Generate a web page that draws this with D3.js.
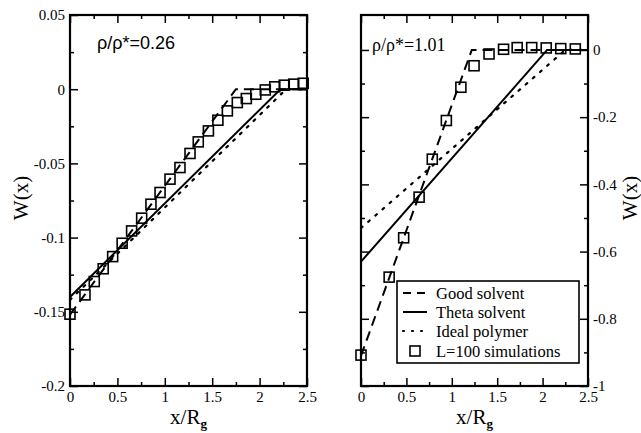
<!DOCTYPE html>
<html>
<head>
<meta charset="utf-8">
<script src="https://cdn.jsdelivr.net/npm/d3@7"></script>
<style>
  body { margin: 0; background: #fff; }
</style>
</head>
<body>
<div id="visualize"></div>
<script>
// x tick values and labels (both panels)
var xTicks = [0, 0.5, 1, 1.5, 2, 2.5];
var xTickLabels = ["0", "0.5", "1", "1.5", "2", "2.5"];
var xMinor = [0.25, 0.75, 1.25, 1.75, 2.25];

// left panel y ticks
var leftYTicks = [0.05, 0, -0.05, -0.1, -0.15, -0.2];
var leftYLabels = ["0.05", "0", "-0.05", "-0.1", "-0.15", "-0.2"];
var leftYMinor = [0.025, -0.025, -0.075, -0.125, -0.175];

// right panel y ticks
var rightYTicks = [0, -0.2, -0.4, -0.6, -0.8, -1];
var rightYLabels = ["0", "-0.2", "-0.4", "-0.6", "-0.8", "-1"];
var rightYMinor = [-0.1, -0.3, -0.5, -0.7, -0.9];

// left panel, rho/rho* = 0.26
var leftGoodX = [0, 1.75, 2.5];
var leftGoodY = [-0.152, 0, 0];
var leftThetaX = [0, 2.22, 2.5];
var leftThetaY = [-0.14, 0, 0];
var leftIdealX = [0, 2.28, 2.5];
var leftIdealY = [-0.142, 0, 0];
var leftSimX = [0, 0.158, 0.256, 0.35, 0.45, 0.55, 0.65, 0.756, 0.854, 0.95, 1.055, 1.16, 1.266,
                1.353, 1.46, 1.56, 1.66, 1.765, 1.86, 1.96, 2.06, 2.16, 2.26, 2.36, 2.46];
var leftSimY = [-0.1516, -0.1386, -0.1296, -0.121, -0.1128, -0.1038, -0.0955, -0.0869, -0.0775,
                -0.0696, -0.0606, -0.0528, -0.0433, -0.0355, -0.0281, -0.0209, -0.0146, -0.009,
                -0.0063, -0.0034, -0.0005, 0.0016, 0.0027, 0.0034, 0.004];

// right panel, rho/rho* = 1.01
var rightGoodX = [0, 1.22, 2.5];
var rightGoodY = [-0.91, 0, 0];
var rightThetaX = [0, 2.05, 2.5];
var rightThetaY = [-0.63, 0, 0];
var rightIdealX = [0, 2.25, 2.5];
var rightIdealY = [-0.53, 0, 0];
var rightSimX = [0, 0.31, 0.47, 0.64, 0.785, 0.94, 1.10, 1.245, 1.41, 1.57, 1.72, 1.88, 2.04, 2.2, 2.36];
var rightSimY = [-0.908, -0.676, -0.559, -0.438, -0.325, -0.21, -0.111, -0.047, -0.012, 0.002,
                 0.007, 0.007, 0.006, 0.004, 0.003];

var legendNames = ["Good solvent", "Theta solvent", "Ideal polymer", "L=100 simulations"];

var serif = "'Liberation Serif', 'Times New Roman', serif";

var svg = d3.select("#visualize").append("svg")
    .attr("width", 641)
    .attr("height", 433);

var dashGood = "10,6";
var dashIdeal = "2,7.5";

function zip(xs, ys) {
  return xs.map(function(d, i) { return [d, ys[i]]; });
}

function styleAxis(sel) {
  sel.attr("font-family", serif).attr("font-size", 15);
  sel.selectAll(".tick line").attr("stroke-width", 1.5);
  sel.selectAll(".domain").remove();
}

function drawPanel(p) {
  var x = d3.scaleLinear().domain([0, 2.5]).range([p.left, p.right]);
  var y = d3.scaleLinear().domain(p.yDomain).range([p.bottom, p.top]);
  var g = svg.append("g");

  // ticks, all pointing inward
  g.append("g").attr("transform", "translate(0," + p.bottom + ")")
    .call(d3.axisBottom(x).tickValues(xTicks).tickSize(-8).tickSizeOuter(0).tickPadding(5)
      .tickFormat(function(d, i) { return xTickLabels[i]; }))
    .call(styleAxis);
  g.append("g").attr("transform", "translate(0," + p.bottom + ")")
    .call(d3.axisBottom(x).tickValues(xMinor).tickSize(-4).tickSizeOuter(0).tickFormat(""))
    .call(styleAxis);
  g.append("g").attr("transform", "translate(0," + p.top + ")")
    .call(d3.axisTop(x).tickValues(xTicks).tickSize(-8).tickSizeOuter(0).tickFormat(""))
    .call(styleAxis);
  g.append("g").attr("transform", "translate(0," + p.top + ")")
    .call(d3.axisTop(x).tickValues(xMinor).tickSize(-4).tickSizeOuter(0).tickFormat(""))
    .call(styleAxis);

  var yl = d3.axisLeft(y).tickValues(p.yTicks).tickSize(-8).tickSizeOuter(0).tickPadding(5);
  var yr = d3.axisRight(y).tickValues(p.yTicks).tickSize(-8).tickSizeOuter(0).tickPadding(5);
  if (p.labelSide == "left") {
    yl.tickFormat(function(d, i) { return p.yLabels[i]; });
    yr.tickFormat("");
  } else {
    yr.tickFormat(function(d, i) { return p.yLabels[i]; });
    yl.tickFormat("");
  }
  g.append("g").attr("transform", "translate(" + p.left + ",0)").call(yl).call(styleAxis);
  g.append("g").attr("transform", "translate(" + p.left + ",0)")
    .call(d3.axisLeft(y).tickValues(p.yMinor).tickSize(-4).tickSizeOuter(0).tickFormat(""))
    .call(styleAxis);
  g.append("g").attr("transform", "translate(" + p.right + ",0)").call(yr).call(styleAxis);
  g.append("g").attr("transform", "translate(" + p.right + ",0)")
    .call(d3.axisRight(y).tickValues(p.yMinor).tickSize(-4).tickSizeOuter(0).tickFormat(""))
    .call(styleAxis);

  var line = d3.line()
    .x(function(d) { return x(d[0]); })
    .y(function(d) { return y(d[1]); });

  g.append("path").datum(zip(p.idealX, p.idealY))
    .attr("d", line).attr("fill", "none").attr("stroke", "#000")
    .attr("stroke-width", 2.2).attr("stroke-linecap", "round").attr("stroke-dasharray", dashIdeal);
  g.append("path").datum(zip(p.thetaX, p.thetaY))
    .attr("d", line).attr("fill", "none").attr("stroke", "#000").attr("stroke-width", 2);
  g.append("path").datum(zip(p.goodX, p.goodY))
    .attr("d", line).attr("fill", "none").attr("stroke", "#000")
    .attr("stroke-width", 2).attr("stroke-dasharray", dashGood);

  g.selectAll(".sq").data(zip(p.simX, p.simY)).enter().append("rect")
    .attr("class", "sq")
    .attr("x", function(d) { return x(d[0]) - 5; })
    .attr("y", function(d) { return y(d[1]) - 5; })
    .attr("width", 10).attr("height", 10)
    .attr("fill", "none").attr("stroke", "#000").attr("stroke-width", 1.6);

  // frame
  g.append("rect")
    .attr("x", p.left).attr("y", p.top)
    .attr("width", p.right - p.left).attr("height", p.bottom - p.top)
    .attr("fill", "none").attr("stroke", "#000").attr("stroke-width", 2.2);

  // x axis label
  var xl = g.append("text")
    .attr("x", (p.left + p.right) / 2).attr("y", 424)
    .attr("text-anchor", "middle")
    .style("font-family", serif).style("font-size", "21px");
  xl.append("tspan").text("x/R");
  xl.append("tspan").attr("dy", 4).style("font-size", "13px").style("font-weight", "bold").text("g");

  // y axis label
  g.append("text")
    .attr("transform", "translate(" + p.yLabelX + ",198) rotate(-90)")
    .attr("text-anchor", "middle").attr("dy", ".35em")
    .style("font-family", serif).style("font-size", "21px")
    .text("W(x)");

  // annotation
  g.append("text")
    .attr("x", p.noteX).attr("y", p.noteY)
    .style("font-family", p.noteFont).style("font-size", "18px")
    .text(p.note);

  return { x: x, y: y, g: g };
}

drawPanel({
  left: 70, right: 307, top: 15, bottom: 386,
  yDomain: [-0.2, 0.05], yTicks: leftYTicks, yLabels: leftYLabels, yMinor: leftYMinor,
  labelSide: "left", yLabelX: 21,
  goodX: leftGoodX, goodY: leftGoodY, thetaX: leftThetaX, thetaY: leftThetaY,
  idealX: leftIdealX, idealY: leftIdealY, simX: leftSimX, simY: leftSimY,
  note: "\u03c1/\u03c1*=0.26", noteX: 97, noteY: 49, noteFont: "'Liberation Sans', Arial, sans-serif"
});

drawPanel({
  left: 361, right: 588, top: 15, bottom: 386,
  yDomain: [-1, 0.104], yTicks: rightYTicks, yLabels: rightYLabels, yMinor: rightYMinor,
  labelSide: "right", yLabelX: 630,
  goodX: rightGoodX, goodY: rightGoodY, thetaX: rightThetaX, thetaY: rightThetaY,
  idealX: rightIdealX, idealY: rightIdealY, simX: rightSimX, simY: rightSimY,
  note: "\u03c1/\u03c1*=1.01", noteX: 372, noteY: 51, noteFont: serif
});

// legend
var rowY = [12, 31, 50, 70];
var legend = svg.append("g").attr("transform", "translate(397,281)");
legend.append("rect")
  .attr("width", 182).attr("height", 82)
  .attr("fill", "#fff").attr("stroke", "#000").attr("stroke-width", 1.6);

var rows = legend.selectAll(".legend")
    .data(legendNames)
  .enter().append("g")
    .attr("class", "legend")
    .attr("transform", function(d, i) { return "translate(0," + rowY[i] + ")"; });

rows.each(function(d, i) {
  var r = d3.select(this);
  if (i < 3) {
    r.append("line").attr("x1", 6).attr("x2", 30).attr("y1", 0).attr("y2", 0)
      .attr("stroke", "#000").attr("stroke-width", i == 2 ? 2.2 : 2)
      .attr("stroke-linecap", i == 2 ? "round" : "butt")
      .attr("stroke-dasharray", i == 0 ? "8,6" : (i == 2 ? "1,8" : null));
  } else {
    r.append("rect").attr("x", 13).attr("y", -5).attr("width", 10).attr("height", 10)
      .attr("fill", "none").attr("stroke", "#000").attr("stroke-width", 1.6);
  }
  r.append("text")
    .attr("x", 39).attr("dy", ".35em")
    .style("font-family", serif).style("font-size", "16.5px")
    .text(d);
});
</script>
</body>
</html>
